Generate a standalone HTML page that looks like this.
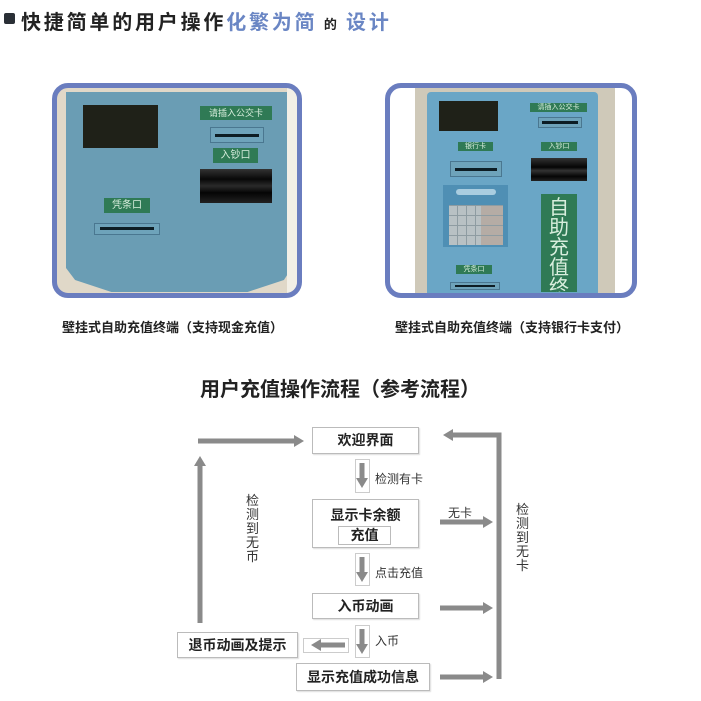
<!DOCTYPE html>
<html><head><meta charset="utf-8">
<style>
body{margin:0;width:701px;height:701px;background:#fff;position:relative;overflow:hidden;font-family:"Liberation Sans","Noto Sans CJK SC",sans-serif;}
.a{position:absolute;}
.lbl{position:absolute;background:#2f7a55;color:#d8eedd;font-size:9px;text-align:center;white-space:nowrap;}
.slot{position:absolute;border:1px solid #4a7790;background:#6ea3ba;}
.slot i{position:absolute;left:8%;right:8%;top:40%;height:3px;background:#0d1d24;}
.box{position:absolute;border:1px solid #bbb;background:#fff;font-weight:bold;font-size:14px;color:#222;text-align:center;box-shadow:1px 1px 1px #ddd;}
.t{position:absolute;font-size:12px;color:#333;}
.v{position:absolute;font-size:13px;color:#333;width:14px;line-height:14px;}
</style></head><body>
<div class="a" style="left:4px;top:13px;width:11px;height:11px;background:#2a2f36;border-radius:2px"></div>
<div class="a" style="left:21px;top:6px;font-size:20px;font-weight:bold;color:#222;white-space:nowrap;letter-spacing:2.8px">快捷简单的用户操作<span style="color:#6a86c4">化繁为简</span><span style="font-size:13px"> 的 </span><span style="color:#6a86c4">设计</span></div>

<!-- left kiosk -->
<div class="a" style="left:52px;top:83px;width:240px;height:205px;border:5px solid #6a7dbf;border-radius:16px;background:#e0d8c8;overflow:hidden">
 <div class="a" style="left:9px;top:4px;width:227px;height:200px;background:#6a9db4;clip-path:polygon(0 0,100% 0,100% 87%,96% 94%,80% 100%,20% 100%,4% 94%,0 88%)"></div>
 <div class="a" style="left:230px;top:0;width:10px;height:205px;background:#f2efe6"></div>
</div>
<div class="a" style="left:83px;top:105px;width:75px;height:43px;background:#1f2118"></div>
<div class="lbl" style="left:200px;top:106px;width:72px;height:14px;line-height:14px">请插入公交卡</div>
<div class="slot" style="left:210px;top:127px;width:52px;height:14px"><i></i></div>
<div class="lbl" style="left:213px;top:148px;width:45px;height:15px;line-height:15px;font-size:10px">入钞口</div>
<div class="a" style="left:200px;top:169px;width:72px;height:34px;background:linear-gradient(#333 0,#080808 30%,#2a2a2a 50%,#050505 70%,#222 100%)"></div>
<div class="lbl" style="left:104px;top:198px;width:46px;height:15px;line-height:15px;font-size:10px">凭条口</div>
<div class="slot" style="left:94px;top:223px;width:64px;height:10px"><i style="top:3px"></i></div>

<!-- right kiosk -->
<div class="a" style="left:385px;top:83px;width:242px;height:205px;border:5px solid #6a7dbf;border-radius:16px;background:#fff;overflow:hidden">
 <div class="a" style="left:25px;top:0;width:200px;height:205px;background:#cfc9b9"></div>
 <div class="a" style="left:37px;top:4px;width:171px;height:201px;background:#6aa6c6;border-radius:4px 4px 0 0"></div>
</div>
<div class="a" style="left:439px;top:101px;width:59px;height:30px;background:#1f2118"></div>
<div class="lbl" style="left:530px;top:103px;width:57px;height:9px;line-height:9px;font-size:7px">请插入公交卡</div>
<div class="slot" style="left:538px;top:117px;width:42px;height:9px"><i style="top:3px"></i></div>
<div class="lbl" style="left:458px;top:142px;width:35px;height:9px;line-height:9px;font-size:7px">银行卡</div>
<div class="lbl" style="left:541px;top:142px;width:36px;height:9px;line-height:9px;font-size:7px">入钞口</div>
<div class="slot" style="left:450px;top:161px;width:50px;height:14px"><i></i></div>
<div class="a" style="left:531px;top:158px;width:56px;height:23px;background:linear-gradient(#333,#050505 40%,#333 55%,#050505 80%,#222)"></div>
<div class="a" style="left:443px;top:185px;width:65px;height:62px;background:#4f8fb4"></div>
<div class="a" style="left:456px;top:189px;width:40px;height:6px;background:#a9cde0;border-radius:3px"></div>
<div class="a" style="left:449px;top:205px;width:54px;height:40px;background:repeating-linear-gradient(90deg,#b8c1c4 0 8px,#8e9ca2 8px 9px),#b0b8bb"></div>
<div class="a" style="left:449px;top:205px;width:54px;height:40px;background:repeating-linear-gradient(0deg,transparent 0 9px,#8e9ca2 9px 10px)"></div>
<div class="a" style="left:481px;top:205px;width:22px;height:40px;background:repeating-linear-gradient(0deg,#b5aca5 0 9px,#8e9ca2 9px 10px)"></div>
<div class="a" style="left:541px;top:194px;width:36px;height:98px;background:#2f7a55;color:#d8eedd;font-size:20px;line-height:20px;text-align:center;overflow:hidden;padding-top:4px;box-sizing:border-box">自<br>助<br>充<br>值<br>终<br>端</div>
<div class="lbl" style="left:456px;top:265px;width:36px;height:9px;line-height:9px;font-size:7px">凭条口</div>
<div class="slot" style="left:450px;top:282px;width:48px;height:6px"><i style="top:2px;height:2px"></i></div>

<div class="a" style="left:62px;top:317px;font-size:13px;font-weight:bold;color:#222;white-space:nowrap">壁挂式自助充值终端（支持现金充值）</div>
<div class="a" style="left:395px;top:317px;font-size:13px;font-weight:bold;color:#222;white-space:nowrap">壁挂式自助充值终端（支持银行卡支付）</div>
<div class="a" style="left:200px;top:373px;font-size:20px;font-weight:bold;color:#222;white-space:nowrap">用户充值操作流程（参考流程）</div>

<!-- flow -->
<svg class="a" style="left:0;top:0" width="701" height="701">
<defs><marker id="m" markerWidth="3" markerHeight="3" refX="1.2" refY="1.5" orient="auto" markerUnits="strokeWidth"><path d="M0,0.3 L2,1.5 L0,2.7z" fill="#8a8a8a"/></marker></defs>
<g stroke="#8a8a8a" stroke-width="5" fill="none">
<line x1="200" y1="623" x2="200" y2="460" marker-end="url(#m)"/>
<line x1="198" y1="441" x2="300" y2="441" marker-end="url(#m)"/>
<polyline points="452,435 499,435 499,679"/>
<line x1="460" y1="435" x2="447" y2="435" marker-end="url(#m)"/>
<line x1="440" y1="522" x2="489" y2="522" marker-end="url(#m)"/>
<line x1="440" y1="608" x2="489" y2="608" marker-end="url(#m)"/>
<line x1="440" y1="677" x2="489" y2="677" marker-end="url(#m)"/>
<line x1="345" y1="645" x2="315" y2="645" marker-end="url(#m)"/>
<line x1="362" y1="463" x2="362" y2="484" marker-end="url(#m)"/>
<line x1="362" y1="557" x2="362" y2="578" marker-end="url(#m)"/>
<line x1="362" y1="629" x2="362" y2="650" marker-end="url(#m)"/>
</g>
<g fill="none" stroke="#ccc" stroke-width="1">
<rect x="355.5" y="459.5" width="14" height="33"/>
<rect x="355.5" y="553.5" width="14" height="32"/>
<rect x="355.5" y="625.5" width="14" height="32"/>
<rect x="303.5" y="638.5" width="45" height="14"/>
</g>
</svg>
<div class="box" style="left:312px;top:427px;width:105px;height:25px;line-height:25px">欢迎界面</div>
<div class="t" style="left:375px;top:470px">检测有卡</div>
<div class="box" style="left:312px;top:499px;width:105px;height:47px;line-height:30px">显示卡余额</div>
<div class="box" style="left:338px;top:526px;width:51px;height:17px;line-height:17px;box-shadow:none">充值</div>
<div class="t" style="left:375px;top:564px">点击充值</div>
<div class="box" style="left:312px;top:593px;width:105px;height:24px;line-height:24px">入币动画</div>
<div class="t" style="left:375px;top:632px">入币</div>
<div class="box" style="left:177px;top:632px;width:119px;height:24px;line-height:24px">退币动画及提示</div>
<div class="box" style="left:296px;top:663px;width:132px;height:26px;line-height:26px">显示充值成功信息</div>
<div class="t" style="left:448px;top:504px">无卡</div>
<div class="v" style="left:246px;top:494px">检测到无币</div>
<div class="v" style="left:516px;top:503px">检测到无卡</div>
</body></html>
